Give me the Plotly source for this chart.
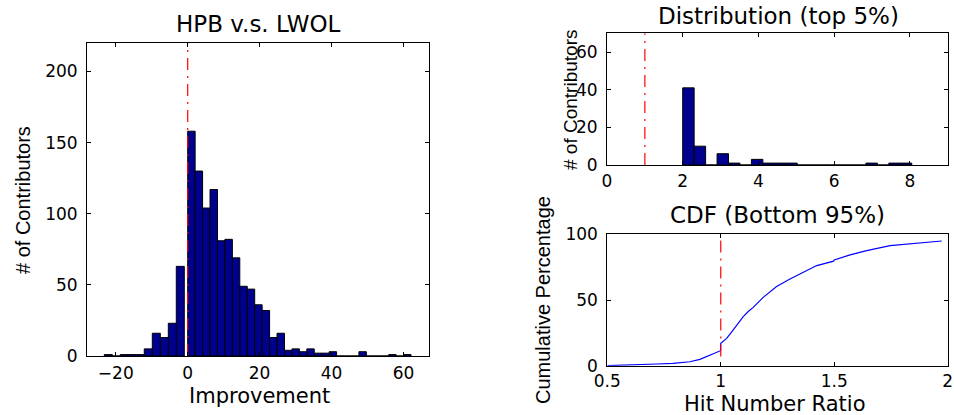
import plotly.graph_objects as go

# ---------------- data ----------------
# Left panel: histogram of "Improvement" (HPB v.s. LWOL)
neg_centers = [-2.06, -4.28, -6.51, -8.73, -10.96, -13.18, -15.41, -17.63, -19.86, -22.08]
neg_counts = [63, 23, 13, 16, 5, 1, 1, 1, 0, 1]
neg_width = 2.225

pos_centers = [1.035, 3.105, 5.175, 7.245, 9.315, 11.385, 13.455, 15.525, 17.595, 19.665,
               21.735, 23.805, 25.875, 27.945, 30.015, 32.085, 34.155, 36.225, 38.295, 40.365,
               42.435, 44.505, 46.575, 48.645, 50.715, 52.785, 54.855, 56.925, 58.995, 61.065]
pos_counts = [158, 130, 104, 117, 81, 82, 69, 49, 47, 36,
              32, 13, 16, 4, 5, 3, 5, 2, 2, 3,
              0, 0, 0, 3, 0, 0, 0, 1, 0, 1]
pos_width = 2.07

# Top-right: distribution of top 5%
top_centers = [2.151, 2.454, 2.756, 3.059, 3.361, 3.664, 3.966, 4.269, 4.571, 4.874,
               5.176, 5.479, 5.781, 6.084, 6.386, 6.689, 6.991, 7.294, 7.596, 7.899]
top_counts = [41, 10, 0, 6, 1, 0, 3, 1, 1, 1,
              0, 0, 0, 0, 0, 0, 1, 0, 1, 1]
top_width = 0.3025

# Bottom-right: CDF of bottom 95%
cdf_x = [0.5, 0.57, 0.644, 0.717, 0.79, 0.864, 0.908, 0.952, 0.999, 1.0, 1.026, 1.055,
         1.077, 1.099, 1.121, 1.143, 1.187, 1.246, 1.305, 1.364, 1.423, 1.497, 1.5, 1.57,
         1.643, 1.746, 1.834, 1.907, 1.974]
cdf_y = [0.0, 0.25, 0.8, 1.3, 1.8, 3.0, 4.8, 8.1, 11.4, 17.0, 20.8, 27.2,
         32.6, 37.3, 41.2, 44.4, 52.0, 60.2, 66.0, 71.4, 76.2, 79.6, 80.5, 84.3,
         87.6, 91.4, 92.6, 93.9, 94.9]

# reference lines
left_ref_x = [0, 0]
left_ref_y = [0, 220]
top_ref_x = [1, 1]
top_ref_y = [0, 70]
cdf_ref_x = [1, 1]
cdf_ref_y = [7, 100]

# ---------------- figure ----------------
W, H = 954, 415
BAR_COLOR = "rgb(0,0,143)"
DASH = "12px,6px,2px,6px"
TICK_FONT = dict(family="DejaVu Sans", size=17, color="black")

fig = go.Figure()

fig.add_trace(go.Bar(x=neg_centers, y=neg_counts, width=neg_width,
                     marker=dict(color=BAR_COLOR, line=dict(color="black", width=1)),
                     xaxis="x", yaxis="y", showlegend=False))
fig.add_trace(go.Bar(x=pos_centers, y=pos_counts, width=pos_width,
                     marker=dict(color=BAR_COLOR, line=dict(color="black", width=1)),
                     xaxis="x", yaxis="y", showlegend=False))
fig.add_trace(go.Scatter(x=left_ref_x, y=left_ref_y, mode="lines",
                         line=dict(color="red", width=1.2, dash=DASH),
                         xaxis="x", yaxis="y", showlegend=False))

fig.add_trace(go.Bar(x=top_centers, y=top_counts, width=top_width,
                     marker=dict(color=BAR_COLOR, line=dict(color="black", width=1)),
                     xaxis="x2", yaxis="y2", showlegend=False))
fig.add_trace(go.Scatter(x=top_ref_x, y=top_ref_y, mode="lines",
                         line=dict(color="red", width=1.2, dash=DASH),
                         xaxis="x2", yaxis="y2", showlegend=False))

fig.add_trace(go.Scatter(x=cdf_x, y=cdf_y, mode="lines",
                         line=dict(color="rgb(0,0,255)", width=1.2),
                         xaxis="x3", yaxis="y3", showlegend=False))
fig.add_trace(go.Scatter(x=cdf_ref_x, y=cdf_ref_y, mode="lines",
                         line=dict(color="red", width=1.2, dash=DASH),
                         xaxis="x3", yaxis="y3", showlegend=False))


def px_x(p):
    return p / W


def px_y(p):
    return 1 - p / H


def ax(domain, rng, tickvals, ticktext=None, anchor=None, standoff=5):
    d = dict(domain=domain, range=rng, tickvals=tickvals,
             showgrid=False, zeroline=False, showline=True, linecolor="black",
             linewidth=1, mirror="ticks", ticks="inside", ticklen=4,
             tickcolor="black", tickfont=TICK_FONT, ticklabelstandoff=standoff,
             fixedrange=True, automargin=False)
    if ticktext is not None:
        d["ticktext"] = ticktext
    if anchor is not None:
        d["anchor"] = anchor
    return d


fig.update_layout(
    width=W, height=H,
    margin=dict(l=0, r=0, t=0, b=0, pad=0, autoexpand=False),
    paper_bgcolor="white", plot_bgcolor="white",
    barmode="overlay",
    xaxis=ax([px_x(87), px_x(429)], [-28.0, 67.1], [-20, 0, 20, 40, 60], anchor="y", standoff=2),
    yaxis=ax([px_y(356), px_y(43)], [0, 220], [0, 50, 100, 150, 200], anchor="x"),
    xaxis2=ax([px_x(607), px_x(947.7)], [0, 9], [0, 2, 4, 6, 8], anchor="y2", standoff=1),
    yaxis2=ax([px_y(165), px_y(33.3)], [0, 70], [0, 20, 40, 60], anchor="x2"),
    xaxis3=ax([px_x(607.3), px_x(947.7)], [0.5, 2.0], [0.5, 1, 1.5, 2],
              ["0.5", "1", "1.5", "2"], anchor="y3", standoff=0),
    yaxis3=ax([px_y(365.7), px_y(234.3)], [0, 100], [0, 50, 100], anchor="x3"),
)

H_FONT = "DejaVu Sans"
V_FONT = "Liberation Sans"


def label(text, x, y, size, family, angle=0):
    fig.add_annotation(text=text, x=px_x(x), y=px_y(y), xref="paper", yref="paper",
                       showarrow=False, textangle=angle,
                       xanchor="center", yanchor="middle",
                       font=dict(family=family, size=size, color="black"))


# titles
label("HPB v.s. LWOL", 258, 24, 23, H_FONT)
label("Distribution (top 5%)", 778, 16, 23, H_FONT)
label("CDF (Bottom 95%)", 777, 215, 23, H_FONT)
# x labels
label("Improvement", 259, 396, 21, H_FONT)
label("Hit Number Ratio", 774, 404, 21, H_FONT)
# y labels
label("# of Contributors", 23, 200, 20, V_FONT, -90)
label("# of Contributors", 570, 100, 19, V_FONT, -90)
label("Cumulative Percentage", 543, 300, 20, V_FONT, -90)

fig.write_html("out.html")
